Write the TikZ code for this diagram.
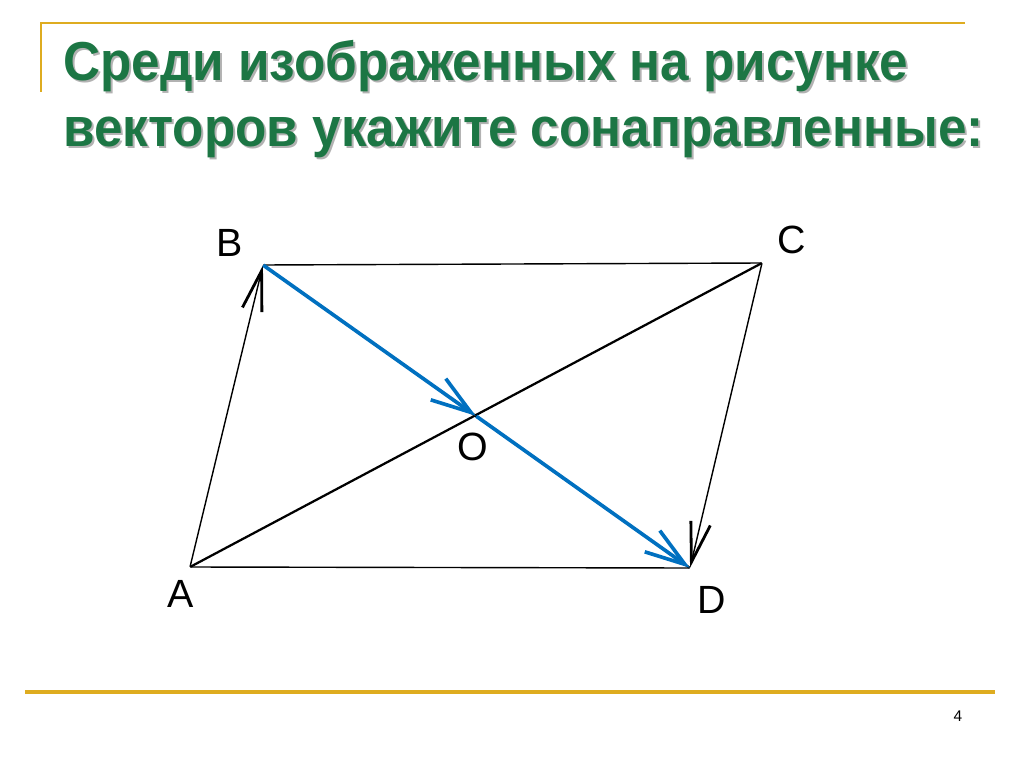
\documentclass[tikz,border=0pt]{standalone}
\usepackage{fontspec}
\setmainfont{Liberation Sans}
\usetikzlibrary{arrows.meta}
\definecolor{gold}{RGB}{222,172,32}
\definecolor{titlegreen}{RGB}{28,118,68}
\definecolor{vecblue}{RGB}{0,112,192}
\newcommand{\narrow}[1]{\scalebox{0.935}[1]{#1}}
\begin{document}
\begin{tikzpicture}[x=0.025cm, y=-0.025cm,
		pt/.style = {inner sep=0pt, minimum size=0pt},
		lbl/.style = {font=\fontsize{28}{30}\selectfont, inner sep=0pt},
		side/.style = {line width=1pt},
		diag/.style = {line width=1.6pt},
		vec/.style = {-{Straight Barb[length=1cm, width=0.5cm, line width=2pt]}},
		bluevec/.style = {vecblue, line width=2.6pt, -{Straight Barb[length=1cm, width=0.65cm, line width=2.6pt]}},
		title/.style = {font=\bfseries\fontsize{39}{44}\selectfont, anchor=base west, inner sep=0pt}]
		\useasboundingbox (0,0) rectangle (1024,767);
		%% FRAME
		\draw[gold, line width=2pt] (41,92) -- (41,23) -- (965,23);
		\draw[gold, line width=2.5pt] (25,692) -- (995,692);
		\node[font=\fontsize{11}{12}\selectfont, inner sep=0pt] (page) at (958,716) {4};
		%% TITLE
		\node[title, gray!60] (ts1) at (65,83) {\narrow{Среди изображенных на рисунке}};
		\node[title, titlegreen] (t1) at (63,81) {\narrow{Среди изображенных на рисунке}};
		\node[title, gray!60] (ts2) at (65,149) {\narrow{векторов укажите сонаправленные:}};
		\node[title, titlegreen] (t2) at (63,147) {\narrow{векторов укажите сонаправленные:}};
		%% NODES
		\node[pt] (A) at (190,567) {};
		\node[pt] (B) at (263,265) {};
		\node[pt] (C) at (762,263) {};
		\node[pt] (D) at (690,568) {};
		\node[pt] (O) at (476,416) {};
		% Labels
		\node[lbl] (lA) at (181,594) {A};
		\node[lbl] (lB) at (230,243) {B};
		\node[lbl] (lC) at (792,240) {C};
		\node[lbl] (lD) at (712,600) {D};
		\node[lbl] (lO) at (473,447) {O};
		%% EDGES
		% Sides
		\draw[side] (B) -- (C);
		\draw[side] (A) -- (D);
		\draw[side, vec] (A) -- (B);
		\draw[side, vec] (C) -- (D);
		% Diagonals
		\draw[diag] (A) -- (C);
		\draw[diag] (B) -- (D);
		% Blue vectors
		\draw[bluevec] (B) -- (O);
		\draw[bluevec] (O) -- (D);
	\end{tikzpicture}
\end{document}
